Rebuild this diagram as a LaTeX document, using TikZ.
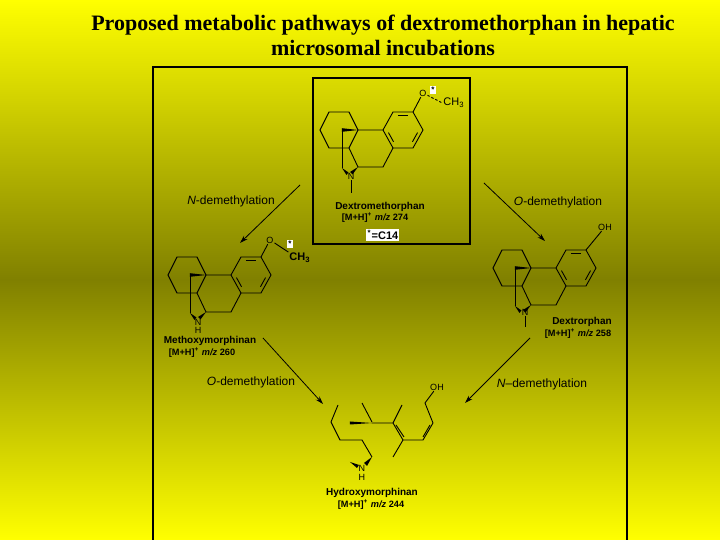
\documentclass[tikz,border=0pt]{standalone}
\usepackage{fontspec}
\setmainfont{Liberation Sans}
\newfontfamily\titlefont{Liberation Serif}
\usetikzlibrary{calc,arrows.meta}
\tikzset{
  bond/.style={line width=0.45pt},
  wedge/.style={fill=black},
  atom/.style={inner sep=0.3pt,font=\fontsize{4.5}{5}\selectfont},
  lbl/.style={inner sep=0pt,font=\fontsize{6}{7}\selectfont},
  cname/.style={inner sep=0pt,font=\bfseries\fontsize{5}{6}\selectfont},
  mz/.style={inner sep=0pt,font=\bfseries\fontsize{4.6}{5.5}\selectfont},
  rxn/.style={line width=0.4pt,-{Stealth[length=4pt,width=2.5pt]}},
  starbox/.style={fill=white,inner sep=0.6pt,font=\bfseries\fontsize{4}{4}\selectfont},
}
\newcommand\dbl[3]{\draw[bond] ($($(#1)!0.18!(#2)$)!0.2!(#3)$) -- ($($(#2)!0.18!(#1)$)!0.2!(#3)$);}
\newcommand\morphcore{%
  \draw[bond] (-19,0)--(-10,-18)--(10,-18)--(19,0)--(10,18)--(-10,18)--cycle;
  \draw[bond] (19,0)--(44,0)--(54,18)--(44,37)--(19,37)--(10,18);
  \draw[bond] (44,0)--(54,-18)--(74,-18)--(84,0)--(74,18)--(54,18);
  \coordinate (c1) at (54,-18); \coordinate (c2) at (74,-18);
  \coordinate (c3) at (84,0); \coordinate (c4) at (74,18);
  \coordinate (c5) at (54,18); \coordinate (c6) at (44,0); \coordinate (cc) at (64,0);
  \dbl{c1}{c2}{cc} \dbl{c3}{c4}{cc} \dbl{c6}{c5}{cc}
  \fill[wedge] (3,-1.8)--(3,1.8)--(19,0)--cycle;
  \draw[bond] (3,0)--(3,38);
  \fill[wedge] (3,38)--(9.5,42.5)--(7.5,45)--cycle;
  \fill[wedge] (19,37)--(13.5,44.5)--(11,42)--cycle;
}
\newcommand\mh{[M+H]\textsuperscript{+} \textit{m/z}}
\begin{document}
\begin{tikzpicture}[x=0.5pt,y=-0.5pt]
\useasboundingbox (0,0) rectangle (720,540);
\shade[top color=yellow,bottom color={rgb,255:red,128;green,128;blue,0}] (0,0) rectangle (720,280);
\shade[top color={rgb,255:red,128;green,128;blue,0},bottom color=yellow] (0,279.5) rectangle (720,540);
\node[font=\titlefont\bfseries\fontsize{11}{12.5}\selectfont,align=center] (title) at (383,35)
  {Proposed metabolic pathways of dextromethorphan in hepatic\\microsomal incubations};
\draw[line width=1.3pt] (153,545) -- (153,67) -- (627,67) -- (627,545);
\draw[line width=1.3pt] (313,78) rectangle (470,244);

% Dextromethorphan
\begin{scope}[shift={(339,130)}]
  \morphcore
  \node[atom] (n1) at (12,46) {N};
  \draw[bond] (n1) -- (12,63);
  \node[atom] (o1) at (84,-37) {O};
  \draw[bond] (74,-18) -- (o1);
  \node[atom,font=\fontsize{5.5}{6}\selectfont] (me1) at (115,-27) {CH\textsubscript{3}};
  \draw[bond,dash pattern=on 1.2pt off 1pt] (o1) -- (me1.west);
  \node[starbox] (s1) at (94,-40) {*};
\end{scope}
\node[cname] (dm) at (380,207) {Dextromethorphan};
\node[mz] (dmz) at (375,218) {\mh{} 274};
\node[starbox,font=\bfseries\fontsize{5.5}{6}\selectfont] (c14) at (383,235) {\textsuperscript{*}=C14};

% Methoxymorphinan
\begin{scope}[shift={(187,275)}]
  \morphcore
  \node[atom] (n2) at (11,47) {N};
  \node[atom] (h2) at (11,55) {H};
  \node[atom] (o2) at (83,-35) {O};
  \draw[bond] (74,-18) -- (o2);
  \node[atom,font=\bfseries\fontsize{5.5}{6}\selectfont] (me2) at (113,-17) {CH\textsubscript{3}};
  \draw[bond] (o2) -- (me2.north west);
  \node[starbox] (s2) at (103,-31) {*};
\end{scope}
\node[cname] (mm) at (210,341) {Methoxymorphinan};
\node[mz] (mmz) at (202,353) {\mh{} 260};

% Dextrorphan
\begin{scope}[shift={(512,268)}]
  \morphcore
  \node[atom] (n3) at (13,44) {N};
  \draw[bond] (n3) -- (13,59);
  \node[atom] (oh3) at (93,-41) {OH};
  \draw[bond] (74,-18) -- (oh3);
\end{scope}
\node[cname] (dx) at (582,322) {Dextrorphan};
\node[mz] (dxz) at (578,334) {\mh{} 258};

% Hydroxymorphinan (fragmentary drawing)
\draw[bond] (338,405)--(331,422)--(340,440)--(362,440)--(372,457);
\draw[bond] (362,403)--(372,422);
\fill[wedge] (350,421.5)--(350,424.5)--(372,423)--cycle;
\draw[bond] (372,423)--(393,423)--(403,440)--(423,440)--(433,423)--(425,403);
\draw[bond] (393,423)--(402,405);
\draw[bond] (396,425)--(404,437);
\draw[bond] (423,437)--(430,425);
\draw[bond] (403,440)--(393,457);
\node[atom] (oh4) at (437,387) {OH};
\draw[bond] (425,403) -- (oh4);
\node[atom] (n4) at (362,468) {N};
\node[atom] (h4) at (362,477) {H};
\fill[wedge] (350,462)--(359,465)--(357,468)--cycle;
\fill[wedge] (372,457)--(367,466)--(364,463)--cycle;
\node[cname] (hm) at (372,493) {Hydroxymorphinan};
\node[mz] (hmz) at (371,505) {\mh{} 244};

% reactions
\coordinate (a1s) at (300,185); \coordinate (a1e) at (240,243);
\coordinate (a2s) at (484,183); \coordinate (a2e) at (545,241);
\coordinate (a3s) at (263,338); \coordinate (a3e) at (323,404);
\coordinate (a4s) at (530,338); \coordinate (a4e) at (465,403);
\draw[rxn] (a1s) -- (a1e);
\draw[rxn] (a2s) -- (a2e);
\draw[rxn] (a3s) -- (a3e);
\draw[rxn] (a4s) -- (a4e);
\node[lbl] (r1) at (231,201) {\textit{N}-demethylation};
\node[lbl] (r2) at (558,202) {\textit{O}-demethylation};
\node[lbl] (r3) at (251,382) {\textit{O}-demethylation};
\node[lbl] (r4) at (542,384) {\textit{N}--demethylation};
\end{tikzpicture}
\end{document}
